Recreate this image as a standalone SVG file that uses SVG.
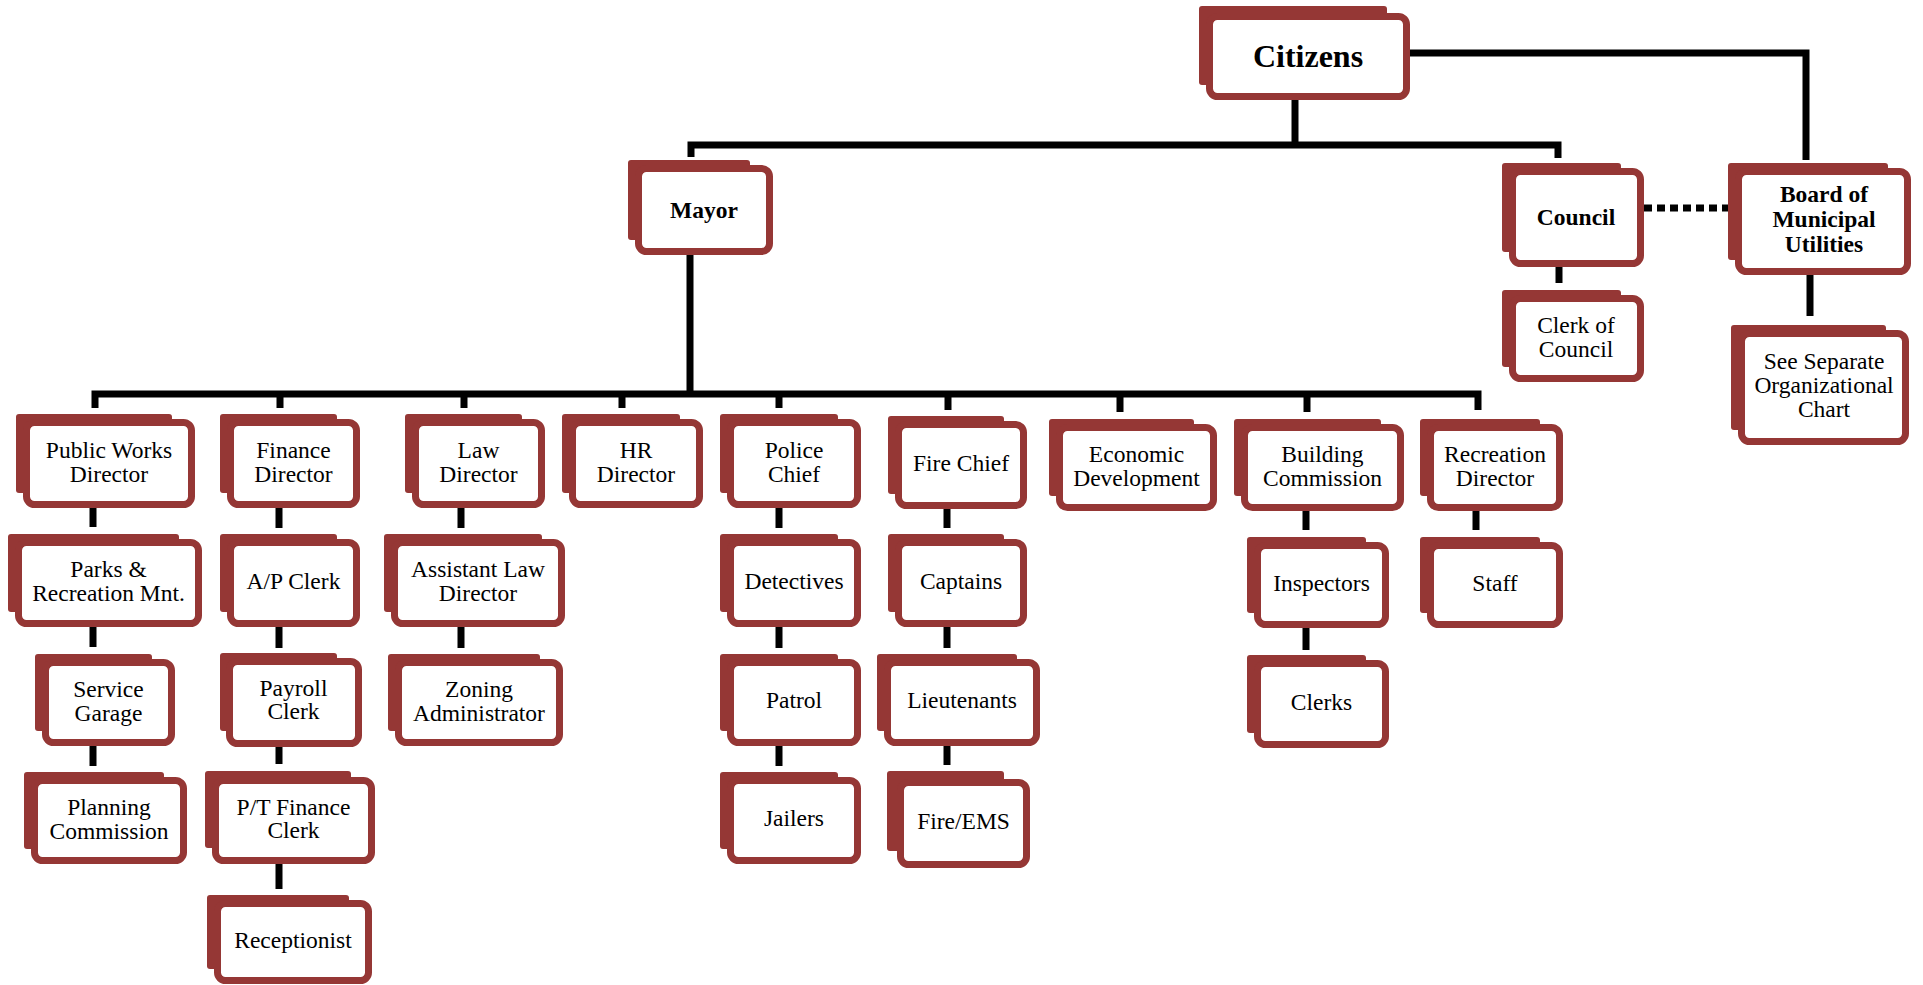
<svg xmlns="http://www.w3.org/2000/svg" width="1923" height="985" viewBox="0 0 1923 985">
<style>
.bk{fill:#953735}
.fr{fill:#fff;stroke:#953735;stroke-width:7}
.t{font-family:"Liberation Serif","Times New Roman",serif;font-size:23.5px;text-anchor:middle;fill:#000}
.b{font-weight:bold}
.ln{stroke:#000;stroke-width:7;fill:none;stroke-linejoin:miter}
.dot{stroke:#000;stroke-width:7;fill:none;stroke-dasharray:8 5}
</style>
<rect width="1923" height="985" fill="#fff"/>
<g id="connectors">
<path class="ln" d="M1295 100 V145"/>
<path class="ln" d="M691 157 V145 H1558 V158"/>
<path class="ln" d="M1410 53 H1806 V160"/>
<path class="ln" d="M690 255 V394"/>
<path class="ln" d="M95 408 V394 H1478 V410"/>
<path class="ln" d="M280 394 V408 M464 394 V408 M622 394 V408 M779 394 V408 M948 394 V410 M1120 394 V412 M1307 394 V412"/>
<path class="ln" d="M1559 267 V283"/>
<path class="dot" d="M1644 208 H1729"/>
<path class="ln" d="M1810 275 V316"/>
<path class="ln" d="M93 508 V527 M93 623 V647 M93 746 V766"/>
<path class="ln" d="M279 508 V528 M279 627 V648 M279 746 V764 M279 864 V889"/>
<path class="ln" d="M461 508 V528 M461 627 V648"/>
<path class="ln" d="M779 508 V528 M779 627 V648 M779 746 V766"/>
<path class="ln" d="M947 509 V528 M947 627 V648 M947 746 V765"/>
<path class="ln" d="M1306 511 V530 M1306 628 V650"/>
<path class="ln" d="M1476 511 V530"/>
</g>
<g id="citizens"><rect class="bk" x="1199" y="6" width="188" height="79" rx="3"/><rect class="fr" x="1209.5" y="16.5" width="197" height="80" rx="8"/><text class="t b" x="1308" y="67" style="font-size:32px">Citizens</text></g>
<g id="mayor"><rect class="bk" x="628" y="160" width="122" height="80" rx="3"/><rect class="fr" x="638.5" y="168.5" width="131" height="83" rx="8"/><text class="t b" x="704" y="217.5">Mayor</text></g>
<g id="council"><rect class="bk" x="1502" y="163" width="119" height="89" rx="3"/><rect class="fr" x="1512.5" y="171.5" width="128" height="92" rx="8"/><text class="t b" x="1576" y="225">Council</text></g>
<g id="board"><rect class="bk" x="1728" y="163" width="160" height="97" rx="3"/><rect class="fr" x="1738.5" y="171.5" width="169" height="100" rx="8"/><text class="t b" x="1824" y="202">Board of</text><text class="t b" x="1824" y="227">Municipal</text><text class="t b" x="1824" y="252">Utilities</text></g>
<g id="clerk-of-council"><rect class="bk" x="1502" y="290" width="119" height="77" rx="3"/><rect class="fr" x="1512.5" y="298.5" width="128" height="80" rx="8"/><text class="t" x="1576" y="333">Clerk of</text><text class="t" x="1576" y="356.5">Council</text></g>
<g id="see-separate"><rect class="bk" x="1731" y="325" width="155" height="105" rx="3"/><rect class="fr" x="1741.5" y="333.5" width="164" height="108" rx="8"/><text class="t" x="1824" y="368.5">See Separate</text><text class="t" x="1824" y="392.5">Organizational</text><text class="t" x="1824" y="417">Chart</text></g>

<g id="public-works"><rect class="bk" x="16" y="414" width="156" height="79" rx="3"/><rect class="fr" x="26.5" y="422.5" width="165" height="82" rx="8"/><text class="t" x="109" y="457.5">Public Works</text><text class="t" x="109" y="481.5">Director</text></g>
<g id="finance"><rect class="bk" x="220" y="414" width="117" height="79" rx="3"/><rect class="fr" x="230.5" y="422.5" width="126" height="82" rx="8"/><text class="t" x="293.5" y="457.5">Finance</text><text class="t" x="293.5" y="481.5">Director</text></g>
<g id="law"><rect class="bk" x="405" y="414" width="117" height="79" rx="3"/><rect class="fr" x="415.5" y="422.5" width="126" height="82" rx="8"/><text class="t" x="478.5" y="457.5">Law</text><text class="t" x="478.5" y="481.5">Director</text></g>
<g id="hr"><rect class="bk" x="562" y="414" width="118" height="79" rx="3"/><rect class="fr" x="572.5" y="422.5" width="127" height="82" rx="8"/><text class="t" x="636" y="457.5">HR</text><text class="t" x="636" y="481.5">Director</text></g>
<g id="police"><rect class="bk" x="720" y="414" width="118" height="79" rx="3"/><rect class="fr" x="730.5" y="422.5" width="127" height="82" rx="8"/><text class="t" x="794" y="457.5">Police</text><text class="t" x="794" y="481.5">Chief</text></g>
<g id="fire-chief"><rect class="bk" x="888" y="416" width="116" height="78" rx="3"/><rect class="fr" x="898.5" y="424.5" width="125" height="81" rx="8"/><text class="t" x="961" y="470.5">Fire Chief</text></g>
<g id="economic"><rect class="bk" x="1049" y="419" width="145" height="77" rx="3"/><rect class="fr" x="1059.5" y="427.5" width="154" height="80" rx="8"/><text class="t" x="1136.5" y="461.5">Economic</text><text class="t" x="1136.5" y="485.5">Development</text></g>
<g id="building"><rect class="bk" x="1234" y="419" width="147" height="77" rx="3"/><rect class="fr" x="1244.5" y="427.5" width="156" height="80" rx="8"/><text class="t" x="1322.5" y="461.5">Building</text><text class="t" x="1322.5" y="485.5">Commission</text></g>
<g id="recreation"><rect class="bk" x="1420" y="419" width="120" height="77" rx="3"/><rect class="fr" x="1430.5" y="427.5" width="129" height="80" rx="8"/><text class="t" x="1495" y="461.5">Recreation</text><text class="t" x="1495" y="485.5">Director</text></g>

<g id="parks"><rect class="bk" x="8" y="534" width="171" height="78" rx="3"/><rect class="fr" x="18.5" y="542.5" width="180" height="81" rx="8"/><text class="t" x="108.5" y="577">Parks &amp;</text><text class="t" x="108.5" y="601">Recreation Mnt.</text></g>
<g id="ap-clerk"><rect class="bk" x="220" y="534" width="117" height="78" rx="3"/><rect class="fr" x="230.5" y="542.5" width="126" height="81" rx="8"/><text class="t" x="293.5" y="588.5">A/P Clerk</text></g>
<g id="assistant-law"><rect class="bk" x="384" y="534" width="158" height="78" rx="3"/><rect class="fr" x="394.5" y="542.5" width="167" height="81" rx="8"/><text class="t" x="478" y="577">Assistant Law</text><text class="t" x="478" y="601">Director</text></g>
<g id="detectives"><rect class="bk" x="720" y="534" width="118" height="78" rx="3"/><rect class="fr" x="730.5" y="542.5" width="127" height="81" rx="8"/><text class="t" x="794" y="588.5">Detectives</text></g>
<g id="captains"><rect class="bk" x="888" y="534" width="116" height="78" rx="3"/><rect class="fr" x="898.5" y="542.5" width="125" height="81" rx="8"/><text class="t" x="961" y="588.5">Captains</text></g>
<g id="inspectors"><rect class="bk" x="1247" y="537" width="119" height="76" rx="3"/><rect class="fr" x="1257.5" y="545.5" width="128" height="79" rx="8"/><text class="t" x="1321.5" y="590.5">Inspectors</text></g>
<g id="staff"><rect class="bk" x="1420" y="537" width="120" height="76" rx="3"/><rect class="fr" x="1430.5" y="545.5" width="129" height="79" rx="8"/><text class="t" x="1495" y="590.5">Staff</text></g>

<g id="service-garage"><rect class="bk" x="35" y="654" width="117" height="77" rx="3"/><rect class="fr" x="45.5" y="662.5" width="126" height="80" rx="8"/><text class="t" x="108.5" y="696.5">Service</text><text class="t" x="108.5" y="720.5">Garage</text></g>
<g id="payroll"><rect class="bk" x="220" y="653" width="117" height="78" rx="3"/><rect class="fr" x="229.5" y="661.5" width="129" height="82" rx="8"/><text class="t" x="293.5" y="695.5">Payroll</text><text class="t" x="293.5" y="719">Clerk</text></g>
<g id="zoning"><rect class="bk" x="388" y="654" width="152" height="77" rx="3"/><rect class="fr" x="398.5" y="662.5" width="161" height="80" rx="8"/><text class="t" x="479" y="696.5">Zoning</text><text class="t" x="479" y="720.5">Administrator</text></g>
<g id="patrol"><rect class="bk" x="720" y="654" width="118" height="77" rx="3"/><rect class="fr" x="730.5" y="662.5" width="127" height="80" rx="8"/><text class="t" x="794" y="708">Patrol</text></g>
<g id="lieutenants"><rect class="bk" x="877" y="654" width="140" height="77" rx="3"/><rect class="fr" x="887.5" y="662.5" width="149" height="80" rx="8"/><text class="t" x="962" y="708">Lieutenants</text></g>
<g id="clerks"><rect class="bk" x="1247" y="655" width="119" height="78" rx="3"/><rect class="fr" x="1257.5" y="663.5" width="128" height="81" rx="8"/><text class="t" x="1321.5" y="709.5">Clerks</text></g>

<g id="planning"><rect class="bk" x="24" y="772" width="140" height="77" rx="3"/><rect class="fr" x="34.5" y="780.5" width="149" height="80" rx="8"/><text class="t" x="109" y="814.5">Planning</text><text class="t" x="109" y="838.5">Commission</text></g>
<g id="pt-finance"><rect class="bk" x="205" y="771" width="146" height="77" rx="3"/><rect class="fr" x="215.5" y="780.5" width="156" height="80" rx="8"/><text class="t" x="293.5" y="814.5">P/T Finance</text><text class="t" x="293.5" y="838">Clerk</text></g>
<g id="jailers"><rect class="bk" x="720" y="772" width="118" height="77" rx="3"/><rect class="fr" x="730.5" y="780.5" width="127" height="80" rx="8"/><text class="t" x="794" y="826">Jailers</text></g>
<g id="fire-ems"><rect class="bk" x="887" y="771" width="117" height="80" rx="3"/><rect class="fr" x="900.5" y="782.5" width="126" height="82" rx="8"/><text class="t" x="963.5" y="829">Fire/EMS</text></g>

<g id="receptionist"><rect class="bk" x="207" y="895" width="142" height="74" rx="3"/><rect class="fr" x="217.5" y="903.5" width="151" height="77" rx="8"/><text class="t" x="293" y="947.5">Receptionist</text></g>
</svg>
